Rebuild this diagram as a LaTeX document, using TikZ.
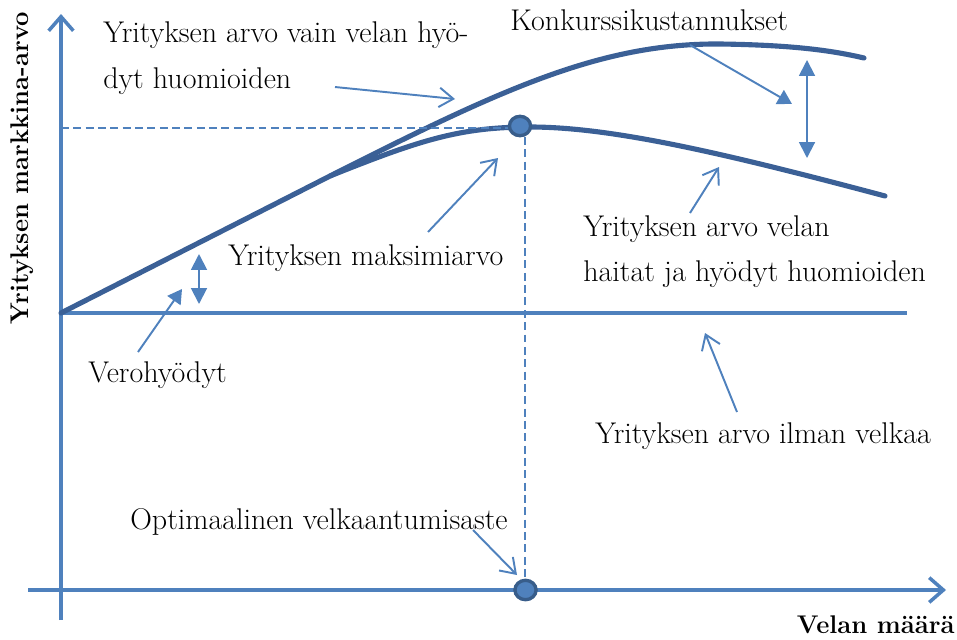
\documentclass[tikz,border=0pt]{standalone}
\usetikzlibrary{arrows.meta,shapes.geometric}
\definecolor{axisblue}{HTML}{4F81BD}
\definecolor{curveblue}{HTML}{3B6096}
\definecolor{markdark}{HTML}{385D8A}
\tikzset{
  lbl/.style={font=\fontsize{17}{20}\selectfont, inner sep=0pt, anchor=west},
  boldlbl/.style={font=\fontsize{14.5}{17}\selectfont\bfseries, inner sep=0pt},
  axisline/.style={draw=axisblue, line width=2pt, -{Straight Barb[length=8pt,width=14pt,line width=2pt]}},
  curveline/.style={draw=curveblue, line width=2.9pt, line cap=round},
  pointer/.style={draw=axisblue, line width=1.1pt, -{Straight Barb[length=8pt,width=11pt,line width=1.1pt]}},
  fpointer/.style={draw=axisblue, fill=axisblue, line width=1.1pt, -{Triangle[length=8pt,width=9pt]}},
  dbl/.style={draw=axisblue, fill=axisblue, line width=1.1pt, {Triangle[length=9pt,width=9pt]}-{Triangle[length=9pt,width=9pt]}},
  guide/.style={draw=axisblue, line width=1.2pt, dash pattern=on 4.5pt off 2.5pt},
  marker/.style={ellipse, draw=markdark, fill=axisblue, line width=1.9pt, minimum width=12pt, minimum height=11pt, inner sep=0pt}
}
\begin{document}
\begin{tikzpicture}[x=0.567pt,y=-0.567pt]
\useasboundingbox (0,0) rectangle (957,639);
% axes
\coordinate (yb) at (61,620);
\coordinate (yt) at (61,14);
\coordinate (xl) at (28,590);
\coordinate (xr) at (946,590);
\draw[axisline] (yb) -- (yt);
\draw[axisline] (xl) -- (xr);
% no-debt line
\coordinate (o) at (61,313);
\coordinate (nr) at (907,313);
\draw[draw=axisblue, line width=2pt] (o) -- (nr);
% curves
\coordinate (split) at (330,176);
\draw[curveline] (o) -- (split) .. controls (500,90) and (600,43) .. (720,44) .. controls (790,45) and (830,50) .. (864,58);
\draw[curveline] (split) .. controls (420,140) and (460,127) .. (530,127) .. controls (610,127) and (720,152) .. (885,196);
% guides
\coordinate (gl) at (61,128);
\coordinate (gr) at (508,128);
\coordinate (gt) at (525,137);
\coordinate (gb) at (525,579);
\draw[guide] (gl) -- (gr);
\draw[guide] (gt) -- (gb);
% markers
\node[marker] (m1) at (520,126) {};
\node[marker] (m2) at (525.5,590) {};
% double arrows
\coordinate (k1) at (807,60);
\coordinate (k2) at (807,158);
\draw[dbl] (k1) -- (k2);
\coordinate (v1) at (199,254);
\coordinate (v2) at (199,304);
\draw[dbl] (v1) -- (v2);
% labels
\node[lbl] (t1) at (103,35) {Yrityksen arvo vain velan hyö-};
\node[lbl] (t2) at (103,81) {dyt huomioiden};
\node[lbl] (t3) at (510,20) {Konkurssikustannukset};
\node[lbl] (t4) at (228,258) {Yrityksen maksimiarvo};
\node[lbl] (t5) at (583,229) {Yrityksen arvo velan};
\node[lbl] (t6) at (583,274) {haitat ja hyödyt huomioiden};
\node[lbl] (t7) at (88,375) {Verohyödyt};
\node[lbl] (t8) at (595,436) {Yrityksen arvo ilman velkaa};
\node[lbl] (t9) at (130,522) {Optimaalinen velkaantumisaste};
\node[boldlbl, anchor=east] (t10) at (955,625) {Velan määrä};
\node[boldlbl, anchor=center, rotate=90] (t11) at (22,168) {Yrityksen markkina-arvo};
% pointer arrows
\coordinate (a1s) at (335,87);  \coordinate (a1e) at (455,99);
\draw[pointer] (a1s) -- (a1e);
\coordinate (a2s) at (690,45);  \coordinate (a2e) at (792,104);
\draw[fpointer] (a2s) -- (a2e);
\coordinate (a3s) at (428,232); \coordinate (a3e) at (498,158);
\draw[pointer] (a3s) -- (a3e);
\coordinate (a4s) at (690,213); \coordinate (a4e) at (719,167);
\draw[pointer] (a4s) -- (a4e);
\coordinate (a5s) at (138,352); \coordinate (a5e) at (182,289);
\draw[fpointer] (a5s) -- (a5e);
\coordinate (a6s) at (737,412); \coordinate (a6e) at (705,333);
\draw[pointer] (a6s) -- (a6e);
\coordinate (a7s) at (473,530); \coordinate (a7e) at (517,575);
\draw[pointer] (a7s) -- (a7e);
\end{tikzpicture}
\end{document}
